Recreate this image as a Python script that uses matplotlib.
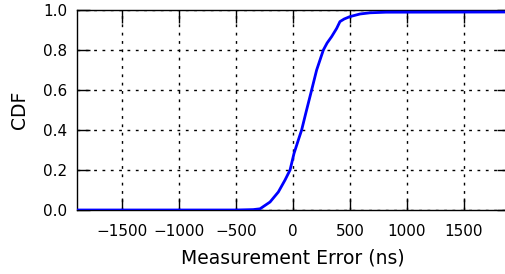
import matplotlib
matplotlib.use("Agg")
import matplotlib.pyplot as plt

err_ns = [-1900, -500, -350, -290, -202, -129, -70, -26, 9, 47, 76, 112, 164, 208,
          267, 300, 340, 384, 413, 450, 501, 589, 677, 818, 1900]
cdf = [0.0, 0.0, 0.002, 0.006, 0.04, 0.09, 0.15, 0.2, 0.283, 0.35, 0.4, 0.483, 0.6, 0.7,
       0.8, 0.835, 0.867, 0.908, 0.942, 0.955, 0.967, 0.98, 0.986, 0.989, 0.99]
xticks = [-1500, -1000, -500, 0, 500, 1000, 1500]
yticks = [0.0, 0.2, 0.4, 0.6, 0.8, 1.0]

W, H = 506, 274
fig = plt.figure(figsize=(W / 100, H / 100), dpi=100)
left, right, bottom, top = 77, 509, 210, 10
ax = fig.add_axes([left / W, (H - bottom) / H, (right - left) / W, (bottom - top) / H])

ax.plot(err_ns, cdf, color="#0000ff", lw=2.0, zorder=3)
ax.set_xlim(-1900, 1900)
ax.set_ylim(0, 1.0)
ax.set_xticks(xticks)
ax.set_yticks(yticks)
ax.set_xticklabels([str(t).replace("-", "\u2212") for t in xticks])
ax.set_yticklabels([f"{t:.1f}" for t in yticks])
ax.grid(True, color="k", linestyle=(0, (2, 4)), linewidth=1.0)
ax.tick_params(direction="in", length=9, width=1.0, labelsize=11,
               top=True, right=True)
ax.tick_params(axis="x", pad=10)
ax.tick_params(axis="y", pad=7)
for s in ax.spines.values():
    s.set_linewidth(1.0)
ax.set_xlabel("Measurement Error (ns)", fontsize=13.5, labelpad=7)
ax.set_ylabel("CDF", fontsize=13.5, labelpad=10)

fig.savefig("out.png", dpi=100)
